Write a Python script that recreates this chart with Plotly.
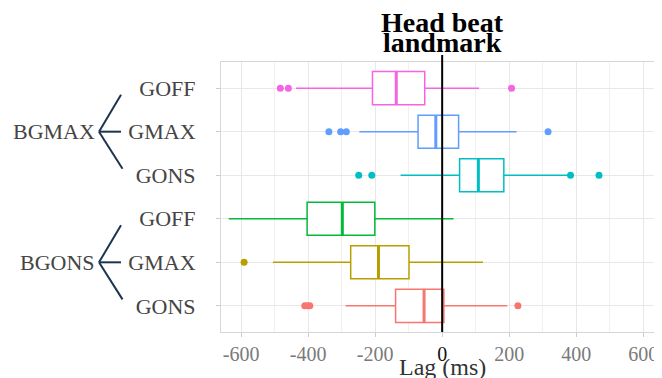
import plotly.graph_objects as go

# Data (ms), rows top -> bottom
groups = ["BGMAX", "BGMAX", "BGMAX", "BGONS", "BGONS", "BGONS"]
conds = ["GOFF", "GMAX", "GONS", "GOFF", "GMAX", "GONS"]
colors = ["#F564E3", "#619CFF", "#00BFC4", "#00BA38", "#B79F00", "#F8766D"]
q1 = [-208, -72, 52, -403, -273, -139]
median = [-137, -19, 108, -298, -190, -54]
q3 = [-52, 49, 184, -201, -99, 5]
lowerfence = [-436, -247, -124, -637, -505, -288]
upperfence = [110, 222, 380, 34, 122, 194]
outliers = [
    [-483, -459, 207],
    [-338, -303, -286, 316],
    [-249, -210, 383, 468],
    [],
    [-591],
    [-410, -402, -395, 226],
]
xticks = [-600, -400, -200, 0, 200, 400, 600]
xticklabels = ["-600", "-400", "-200", "<span style='color:#111111'>0</span>", "200", "400", "600"]
group_names = ["BGMAX", "BGONS"]

ypos = [6, 5, 4, 3, 2, 1]
group_centers = [5, 2]
serif = "Liberation Serif"

# page body has an 8px default margin; lay out in screen pixels minus that
OFF = 8
W, H = 662 - OFF, 378 - OFF
L, T = 221 - OFF, 62 - OFF
R = 0
B = H - (332 - OFF)
PW, PH = W - L - R, H - T - B


def px_x(xs):
    return ((xs - OFF) - L) / PW


def px_y(ys):
    return (T + PH - (ys - OFF)) / PH


fig = go.Figure()
for i in range(6):
    fig.add_trace(go.Box(
        y=[ypos[i]], q1=[q1[i]], median=[median[i]], q3=[q3[i]],
        lowerfence=[lowerfence[i]], upperfence=[upperfence[i]],
        orientation="h", width=0.76, fillcolor="rgba(255,255,255,1)",
        line=dict(color=colors[i], width=1.5), whiskerwidth=0,
        boxpoints=False, hoverinfo="skip", showlegend=False,
    ))
    fig.add_trace(go.Scatter(
        x=[median[i], median[i]], y=[ypos[i] - 0.38, ypos[i] + 0.38],
        mode="lines", line=dict(color=colors[i], width=3),
        hoverinfo="skip", showlegend=False,
    ))
    if outliers[i]:
        fig.add_trace(go.Scatter(
            x=outliers[i], y=[ypos[i]] * len(outliers[i]), mode="markers",
            marker=dict(color=colors[i], size=7), showlegend=False,
            hoverinfo="skip",
        ))

fig.add_shape(type="line", x0=0, x1=0, xref="x", yref="paper", y0=0, y1=px_y(55),
              line=dict(color="black", width=2), layer="above")

fig.update_layout(
    width=W, height=H,
    margin=dict(l=L, r=R, t=T, b=B, autoexpand=False),
    paper_bgcolor="white", plot_bgcolor="white",
    xaxis=dict(
        range=[-660, 656], tickvals=xticks, ticktext=xticklabels, automargin=False,
        showgrid=True, gridcolor="#e8e8e8", gridwidth=1,
        minor=dict(dtick=100, showgrid=True, gridcolor="#f0f0f0", gridwidth=1),
        zeroline=False, showline=True, linecolor="#d6d6d6", mirror=True,
        ticks="outside", ticklen=4, tickcolor="#cccccc",
        tickfont=dict(family=serif, size=20, color="#7a7a7a"),
    ),
    yaxis=dict(
        range=[0.4, 6.6], tickvals=ypos, ticktext=conds, automargin=False,
        showgrid=True, gridcolor="#e8e8e8", gridwidth=1,
        zeroline=False, showline=True, linecolor="#d6d6d6", mirror=True,
        ticks="outside", ticklen=4, tickcolor="#cccccc",
        tickfont=dict(family=serif, size=22, color="#444444"),
        ticklabelstandoff=16,
    ),
)

fig.add_annotation(text="<b>Head beat</b>", x=0, xref="x", xanchor="center",
                   y=px_y(22), yref="paper", yanchor="middle",
                   showarrow=False, font=dict(family=serif, size=28, color="black"))
fig.add_annotation(text="<b>landmark</b>", x=0, xref="x", xanchor="center",
                   y=px_y(43), yref="paper", yanchor="middle",
                   showarrow=False, font=dict(family=serif, size=28, color="black"))
fig.add_annotation(text="Lag (ms)", x=0, xref="x", xanchor="center",
                   y=px_y(367), yref="paper", yanchor="middle",
                   showarrow=False, font=dict(family=serif, size=24, color="#333333"))

navy = "#1a3550"
for name, c in zip(group_names, group_centers):
    fig.add_annotation(text=name, x=px_x(97), xref="paper", xanchor="right",
                       y=c, yref="y", yanchor="middle", showarrow=False,
                       font=dict(family=serif, size=22, color="#444444"))
    vx = px_x(99)
    ux = px_x(121)
    lx = px_x(122.5)
    for (x1, dy) in [(ux, 0.85), (ux, 0.0), (lx, -0.85)]:
        fig.add_shape(type="line", xref="paper", yref="y", x0=vx, y0=c, x1=x1, y1=c + dy,
                      line=dict(color=navy, width=2))

fig.write_html("out.html")
